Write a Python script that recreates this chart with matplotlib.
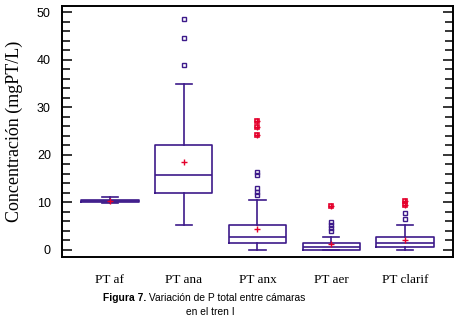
import matplotlib
matplotlib.use("Agg")
import matplotlib.pyplot as plt
from matplotlib.ticker import MultipleLocator

# box statistics (mgPT/L)
labels = ["PT af", "PT ana", "PT anx", "PT aer", "PT clarif"]
q1 = [10.0, 11.9, 1.4, 0.0, 0.6]
med = [10.3, 15.8, 2.7, 0.7, 1.4]
q3 = [10.6, 22.0, 5.2, 1.4, 2.7]
whislo = [9.8, 5.2, 0.0, 0.0, 0.0]
whishi = [11.1, 35.0, 10.6, 2.7, 5.2]
means = [10.4, 18.6, 4.5, 1.2, 2.0]
outliers = [[], [38.9, 44.6, 48.6], [11.6, 12.1, 13.0, 15.8, 16.5],
            [4.0, 4.6, 5.2, 5.8], [6.5, 7.8]]
far_out = [[], [], [24.1, 25.9, 27.2], [9.2], [9.5, 10.2]]

blue = "#3D1A8A"
red = "#E4002B"

fig = plt.figure(figsize=(4.59, 3.21), dpi=100)
ax = fig.add_axes([0.135, 0.199, 0.852, 0.782])

stats = []
for i in range(len(labels)):
    stats.append(dict(label=labels[i], q1=q1[i], med=med[i], q3=q3[i],
                      whislo=whislo[i], whishi=whishi[i], mean=means[i],
                      fliers=outliers[i]))

pos = list(range(1, len(labels) + 1))
lp = dict(color=blue, linewidth=1.2)
ax.bxp(stats, positions=pos, widths=0.78, showmeans=True, showfliers=True,
       boxprops=lp, whiskerprops=lp, capprops=lp, medianprops=lp,
       capwidths=0.22,
       meanprops=dict(marker="+", markeredgecolor=red, markersize=5,
                      markeredgewidth=1.0, linestyle="none"),
       flierprops=dict(marker="s", markerfacecolor="none",
                       markeredgecolor=blue, markersize=3,
                       markeredgewidth=1.0, linestyle="none"))

# far outside points: square with a red plus
for p, vals in zip(pos, far_out):
    if vals:
        ax.plot([p] * len(vals), vals, "s", mfc="none", mec=red,
                ms=3.2, mew=1.2, zorder=4)
        ax.plot([p] * len(vals), vals, "+", mec=red, ms=4.5, mew=1.0,
                zorder=5)

ax.set_xlim(0.35, 5.65)
ax.set_ylim(-1.5, 51.3)
ax.yaxis.set_major_locator(MultipleLocator(10))
ax.yaxis.set_minor_locator(MultipleLocator(2))
ax.tick_params(axis="y", which="both", direction="in", right=True,
               width=1.1, color="black")
ax.tick_params(axis="y", which="major", length=7, pad=8, labelsize=9)
ax.tick_params(axis="y", which="minor", length=6)
ax.tick_params(axis="x", length=0, pad=12)
for lab in ax.get_yticklabels():
    lab.set_family("Liberation Sans")
ax.set_xticks(pos)
ax.set_xticklabels(labels, family="Liberation Serif", fontsize=9.5)
for s in ax.spines.values():
    s.set_linewidth(1.4)

ax.set_ylabel("Concentración (mgPT/L)", family="Liberation Serif",
              fontsize=13, labelpad=10)

cap = fig.text(103 / 459, 1 - 298 / 321, "Figura 7.", family="Liberation Sans",
               fontweight="bold", fontsize=7.4, ha="left", va="center")
ax.annotate(" Variación de P total entre cámaras", xy=(1, 0.5),
            xycoords=cap, va="center", ha="left", family="Liberation Sans",
            fontsize=7.4, annotation_clip=False)
fig.text(210 / 459, 1 - 312 / 321, "en el tren I", family="Liberation Sans",
         fontsize=7.4, ha="center", va="center")

fig.savefig("out.png", dpi=100)
